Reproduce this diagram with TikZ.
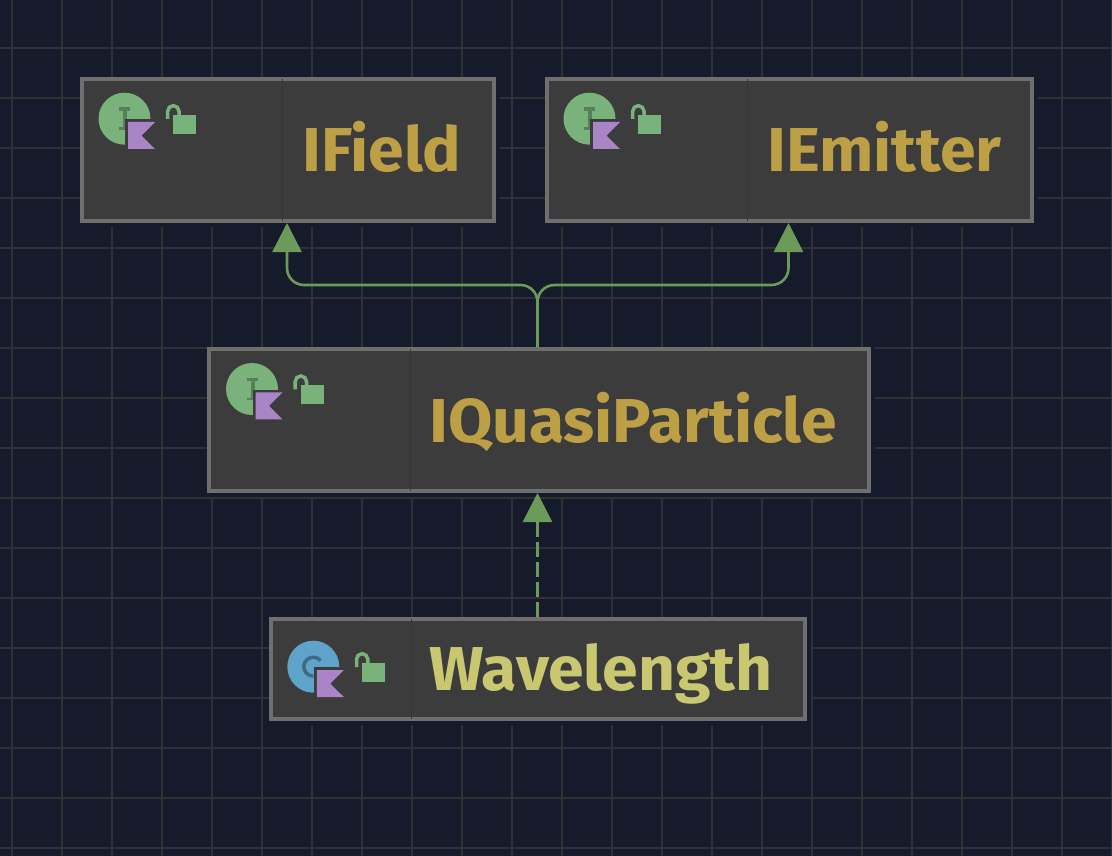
\documentclass[tikz,border=0pt]{standalone}
\usepackage{fontspec}
\setmainfont[FakeStretch=1.037]{Fira Sans}
\usetikzlibrary{arrows.meta}

\definecolor{canvasbg}{HTML}{151B2B}
\definecolor{gridline}{HTML}{2F3135}
\definecolor{boxfill}{HTML}{3C3C3C}
\definecolor{boxedge}{HTML}{6F6F6F}
\definecolor{boxdivider}{HTML}{363636}
\definecolor{ifacetext}{HTML}{BD9F45}
\definecolor{classtext}{HTML}{C9C76F}
\definecolor{linkgreen}{HTML}{6C9A58}
\definecolor{icongreen}{HTML}{7AB27B}
\definecolor{icongreendark}{HTML}{56805A}
\definecolor{iconblue}{HTML}{5FA3CB}
\definecolor{iconbluedark}{HTML}{3F6A85}
\definecolor{iconpurple}{HTML}{A985C8}

\tikzset{
  typebox/.style={draw=boxedge, fill=boxfill, line width=4pt, inner sep=0pt, rectangle},
  typename/.style={anchor=base west, inner sep=0pt, font=\fontsize{62}{62}\selectfont\bfseries},
  extends/.style={draw=linkgreen, line width=2.6pt, -{Triangle[width=29pt, length=29pt]}},
  kotlinflag/.pic={
    \fill[boxfill] (0.5, 0.5) rectangle (32, 32);
    \fill[iconpurple] (3.5, 3.3) -- (30.5, 3.3) -- (17, 17) -- (30.5, 30.3) -- (3.5, 30.3) -- cycle;
  },
  openlock/.pic={
    \fill[icongreen] (48.8, -3.7) rectangle (71.5, 15.3);
    \draw[icongreen, line width=3.5pt] (43.2, 0.3) -- (43.2, -7.4)
      arc[start angle=-180, end angle=0, radius=5.65] -- (54.5, -3.7);
  },
  ifaceicon/.pic={
    \fill[icongreen] (0, 0) circle[radius=26];
    \fill[icongreendark] (-5.5, -11.4) rectangle (5.5, -8);
    \fill[icongreendark] (-1.2, -9) rectangle (2.8, 10);
    \fill[icongreendark] (-5.5, 8.6) rectangle (5.5, 11.3);
    \pic {kotlinflag};
    \pic {openlock};
  },
  classicon/.pic={
    \fill[iconblue] (0, 0) circle[radius=26];
    \draw[iconbluedark, line width=3.5pt] (7.3, -6.1)
      arc[start angle=-40, end angle=-270, radius=9.5];
    \pic {kotlinflag};
    \pic {openlock};
  }
}

\begin{document}
\begin{tikzpicture}[x=1pt, y=-1pt]
    \useasboundingbox (0, 0) rectangle (1112, 856);
    \fill[canvasbg] (0, 0) rectangle (1112, 856);

    \foreach \gx in {12, 62, ..., 1112}
      \draw[gridline, line width=2pt] (\gx, 0) -- (\gx, 856);
    \foreach \gy in {48, 98, ..., 848}
      \draw[gridline, line width=2pt] (0, \gy) -- (1112, \gy);

    \node[typebox, minimum width=412pt, minimum height=142pt] (fieldbox) at (288, 150) {};
    \node[typebox, minimum width=485pt, minimum height=142pt] (emitterbox) at (789.5, 150) {};
    \node[typebox, minimum width=660pt, minimum height=142pt] (quasibox) at (539, 420) {};
    \node[typebox, minimum width=534pt, minimum height=100pt] (wavebox) at (538, 669) {};

    % strip right of and under each box where the grid stops
    \foreach \boxname in {fieldbox, emitterbox, quasibox, wavebox} {
      \fill[canvasbg] (\boxname.south west) rectangle ([shift={(3.5pt, -3.5pt)}]\boxname.south east);
      \fill[canvasbg] (\boxname.north east) rectangle ([shift={(3.5pt, -3.5pt)}]\boxname.south east);
    }

    \draw[boxdivider, line width=1pt] (282.5, 79) -- (282.5, 221);
    \draw[boxdivider, line width=1pt] (747.5, 79) -- (747.5, 221);
    \draw[boxdivider, line width=1pt] (410, 349) -- (410, 491);
    \draw[boxdivider, line width=1pt] (411.5, 619) -- (411.5, 719);

    \pic at (124.5, 118.7) {ifaceicon};
    \pic at (589.5, 118.7) {ifaceicon};
    \pic at (252, 389) {ifaceicon};
    \pic at (313.3, 666.7) {classicon};

    \node[typename, text=ifacetext] (fieldname) at (302, 172) {IField};
    \node[typename, text=ifacetext] (emittername) at (767, 172) {IEmitter};
    \node[typename, text=ifacetext] (quasiname) at (429, 442) {IQuasiParticle};
    \node[typename, text=classtext] (wavename) at (429, 690) {Wavelength};

    \coordinate (forkjoint) at (537.5, 285);
    \draw[extends, rounded corners=17pt] ([xshift=-1.5pt]quasibox.north) -- (forkjoint)
      -- ([xshift=-1pt]fieldbox.south |- forkjoint) -- ([xshift=-1pt]fieldbox.south);
    \draw[extends, rounded corners=17pt] ([xshift=-1.5pt]quasibox.north) -- (forkjoint)
      -- ([xshift=-1pt]emitterbox.south |- forkjoint) -- ([xshift=-1pt]emitterbox.south);
    \draw[extends, dash pattern=on 15pt off 5pt] ([xshift=-0.5pt]wavebox.north) -- ([xshift=-1.5pt]quasibox.south);
\end{tikzpicture}
\end{document}
